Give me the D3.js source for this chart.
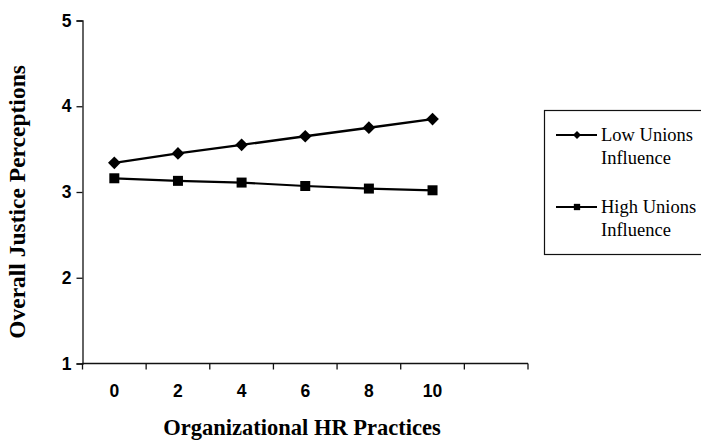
<!DOCTYPE html>
<html>
<head>
<meta charset="utf-8">
<script src="https://cdn.jsdelivr.net/npm/d3@7"></script>
<style>
  html, body { margin: 0; padding: 0; background: #fff; }
  svg { display: block; }
</style>
</head>
<body>
<div id="chart"></div>
<script>
// ---- data ----
const categories = ["0", "2", "4", "6", "8", "10", ""];
const xValues = ["0", "2", "4", "6", "8", "10"];
const lowUnions = [3.34, 3.45, 3.55, 3.65, 3.75, 3.85];
const highUnions = [3.16, 3.13, 3.11, 3.07, 3.04, 3.02];
const yTicks = [1, 2, 3, 4, 5];
const seriesNames = ["Low Unions|Influence", "High Unions|Influence"];

const W = 701, H = 444;
const svg = d3.select("#chart").append("svg").attr("width", W).attr("height", H);

const x = d3.scaleBand().domain(categories).range([82.5, 528]).paddingInner(0).paddingOuter(0);
const y = d3.scaleLinear().domain([1, 5]).range([363.5, 20.5]);

// y axis
const yAxis = d3.axisLeft(y).tickValues(yTicks).tickSize(6).tickPadding(5).tickFormat(d3.format("d"));
const gy = svg.append("g").attr("transform", "translate(82.5,0)").call(yAxis);
gy.select(".domain").attr("stroke", "#111").attr("stroke-width", 1.3);
gy.selectAll(".tick line").attr("stroke", "#111").attr("stroke-width", 1.3);
gy.selectAll(".tick text").attr("font-family", "Liberation Sans, Arial, sans-serif")
  .attr("font-weight", "bold").attr("font-size", 17.5).attr("fill", "#000");

// x axis: labels centered in bands, ticks at band boundaries
const gx = svg.append("g").attr("transform", "translate(0,363.5)");
gx.append("line").attr("x1", x.range()[0]).attr("x2", x.range()[1]).attr("y1", 0).attr("y2", 0)
  .attr("stroke", "#111").attr("stroke-width", 1.3);
const bounds = categories.map(c => x(c)).concat([x.range()[1]]);
gx.selectAll("line.tk").data(bounds).join("line").attr("class", "tk")
  .attr("x1", d => d).attr("x2", d => d).attr("y1", 0).attr("y2", 6)
  .attr("stroke", "#111").attr("stroke-width", 1.3);
gx.selectAll("text").data(categories).join("text")
  .attr("x", d => x(d) + x.bandwidth() / 2).attr("y", 33)
  .attr("text-anchor", "middle")
  .attr("font-family", "Liberation Sans, Arial, sans-serif").attr("font-weight", "bold")
  .attr("font-size", 17.5).text(d => d);

// lines
const line = d3.line().x((d, i) => x(xValues[i]) + x.bandwidth() / 2).y(d => y(d));
svg.append("path").datum(lowUnions).attr("d", line).attr("fill", "none").attr("stroke", "#000").attr("stroke-width", 2.4);
svg.append("path").datum(highUnions).attr("d", line).attr("fill", "none").attr("stroke", "#000").attr("stroke-width", 2.2);

const diamond = d3.symbol().type(d3.symbolSquare).size(80);
const square = d3.symbol().type(d3.symbolSquare).size(100);
svg.selectAll("path.lowpt").data(lowUnions).join("path").attr("class", "lowpt")
  .attr("d", diamond).attr("fill", "#000")
  .attr("transform", (d, i) => `translate(${x(xValues[i]) + x.bandwidth() / 2},${y(d)}) rotate(45)`);
svg.selectAll("path.highpt").data(highUnions).join("path").attr("class", "highpt")
  .attr("d", square).attr("fill", "#000")
  .attr("transform", (d, i) => `translate(${x(xValues[i]) + x.bandwidth() / 2},${y(d)})`);

// axis titles
svg.append("text").attr("transform", "translate(25,202) rotate(-90)")
  .attr("text-anchor", "middle").attr("font-family", "Liberation Serif, Times New Roman, serif")
  .attr("font-weight", "bold").attr("font-size", 23.5).text("Overall Justice Perceptions");
svg.append("text").attr("x", 302).attr("y", 435)
  .attr("text-anchor", "middle").attr("font-family", "Liberation Serif, Times New Roman, serif")
  .attr("font-weight", "bold").attr("font-size", 22.5).text("Organizational HR Practices");

// legend
const lg = svg.append("g");
lg.append("rect").attr("x", 544.5).attr("y", 110.5).attr("width", 200).attr("height", 144)
  .attr("fill", "#fff").attr("stroke", "#111").attr("stroke-width", 1.2);
const legendY = [135, 207];
const legendSyms = [d3.symbol().type(d3.symbolSquare).size(32), d3.symbol().type(d3.symbolSquare).size(40)];
const legendRot = [45, 0];
seriesNames.forEach((name, i) => {
  const ly = legendY[i];
  lg.append("line").attr("x1", 556).attr("x2", 597).attr("y1", ly).attr("y2", ly)
    .attr("stroke", "#000").attr("stroke-width", 2);
  lg.append("path").attr("d", legendSyms[i]).attr("fill", "#000")
    .attr("transform", `translate(577,${ly}) rotate(${legendRot[i]})`);
  const parts = name.split("|");
  parts.forEach((p, j) => {
    lg.append("text").attr("x", 601).attr("y", ly + 6 + j * 23)
      .attr("font-family", "Liberation Serif, Times New Roman, serif")
      .attr("font-size", 18.5).attr("fill", "#000").text(p);
  });
});
</script>
</body>
</html>
